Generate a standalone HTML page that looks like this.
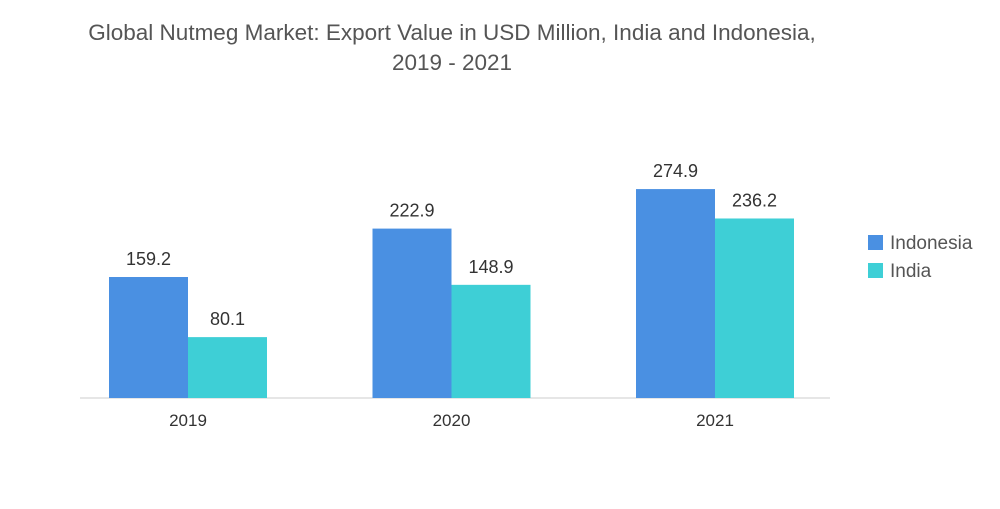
<!DOCTYPE html>
<html><head><meta charset="utf-8"><style>
body{margin:0;background:#fff;font-family:"Liberation Sans",sans-serif;}
svg text{font-family:"Liberation Sans",sans-serif;}
</style></head><body>
<svg width="1000" height="504" xmlns="http://www.w3.org/2000/svg">
<text x="452" y="40" text-anchor="middle" font-size="22.5" fill="#555">Global Nutmeg Market: Export Value in USD Million, India and Indonesia,</text>
<text x="452" y="70" text-anchor="middle" font-size="22.5" fill="#555">2019 - 2021</text>
<line x1="80" y1="398" x2="830" y2="398" stroke="#ccc" stroke-width="1"/>
<g id="bars"></g>
<rect x="868" y="235" width="15" height="15" fill="#4a90e2"/>
<text x="890" y="249" font-size="19" fill="#555">Indonesia</text>
<rect x="868" y="263" width="15" height="15" fill="#3ecfd6"/>
<text x="890" y="277" font-size="19" fill="#555">India</text>
</svg>
<script>
const categories=["2019","2020","2021"];
const indonesia=[159.2,222.9,274.9];
const india=[80.1,148.9,236.2];
const baseY=398, scale=0.76, firstCenter=188, step=263.5, bw=79;
function y(v){return baseY-v*scale;}
function cx(i){return firstCenter+i*step;}
const g=document.getElementById('bars');
const NS="http://www.w3.org/2000/svg";
function bar(x,v,color,name){
 const r=document.createElementNS(NS,'rect');
 r.setAttribute('x',x);r.setAttribute('y',y(v));r.setAttribute('width',bw);r.setAttribute('height',baseY-y(v));r.setAttribute('fill',color);
 
 
 g.appendChild(r);
 const t=document.createElementNS(NS,'text');
 t.setAttribute('x',x+bw/2);t.setAttribute('y',y(v)-12);t.setAttribute('text-anchor','middle');t.setAttribute('font-size','18');t.setAttribute('fill','#333');
 t.textContent=v.toFixed(1);
 
 
 g.appendChild(t);
}
categories.forEach((c,i)=>{
 bar(cx(i)-bw,indonesia[i],'#4a90e2','bar-indonesia-'+c);
 bar(cx(i),india[i],'#3ecfd6','bar-india-'+c);
 const t=document.createElementNS(NS,'text');
 t.setAttribute('x',cx(i));t.setAttribute('y',426);t.setAttribute('text-anchor','middle');t.setAttribute('font-size','17');t.setAttribute('fill','#333');
 t.textContent=c;
 
 
 g.appendChild(t);
});
</script>
</body></html>
